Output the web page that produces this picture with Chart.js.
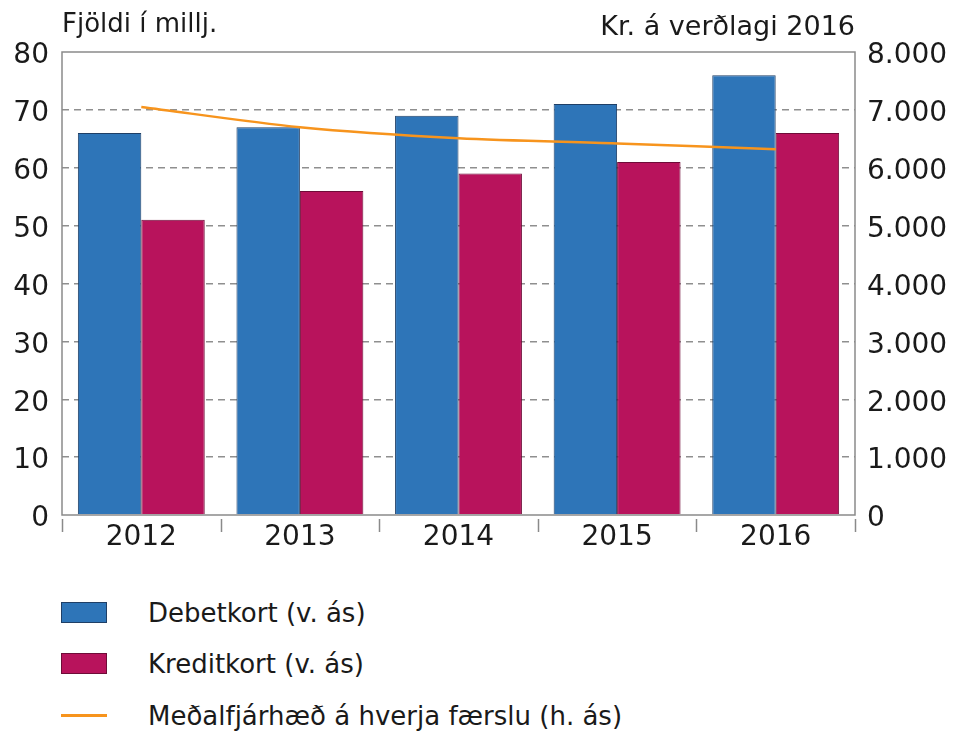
<!DOCTYPE html>
<html>
<head>
<meta charset="utf-8">
<script src="https://cdn.jsdelivr.net/npm/chart.js@4/dist/chart.umd.min.js"></script>
<style>
  html, body { margin: 0; padding: 0; background: #fff; }
  body { width: 953px; height: 736px; position: relative; overflow: hidden;
         font-family: 'DejaVu Sans', sans-serif; color: #1a1a1a; }
  #wrap { position: absolute; left: 0; top: 0; width: 953px; height: 570px; }
  .legend { position: absolute; left: 61px; top: 587px; }
  .legend .row { display: flex; align-items: center; height: 51px; font-size: 26px; }
  .legend .row:last-child { padding-top: 1px; }
  .legend .sw { width: 46px; height: 21px; margin-right: 41px; box-sizing: border-box; }
  .legend .ln { width: 46px; height: 2.5px; margin-right: 41px; }
</style>
</head>
<body>
<div id="wrap"><canvas id="c"></canvas></div>
<div class="legend" id="legend"></div>
<script>
// ---- data ----
const years = ['2012', '2013', '2014', '2015', '2016'];
const debetkort = [66, 67, 69, 71, 76];          // millj., vinstri ás
const kreditkort = [51, 56, 59, 61, 66];         // millj., vinstri ás
const medalfjarhaed = [7050, 6700, 6510, 6420, 6320]; // kr., hægri ás

const leftTitle = 'Fjöldi í millj.';
const rightTitle = 'Kr. á verðlagi 2016';
const seriesNames = ['Debetkort (v. ás)', 'Kreditkort (v. ás)', 'Meðalfjárhæð á hverja færslu (h. ás)'];

const C = {
  blue: '#2E75B8', blueEdge: '#1F3F66',
  magenta: '#B8135C', magentaEdge: '#6E0C38',
  orange: '#F7941D', frame: '#8a8a8a', grid: '#8f8f8f', ink: '#1a1a1a',
};
const FONT = "'DejaVu Sans', sans-serif";

// thousands with dot
const fmt = v => String(v).replace(/\B(?=(\d{3})+(?!\d))/g, '.');

// frame, axis titles, tick marks under the category axis
const framePlugin = {
  id: 'frame',
  afterDraw(chart) {
    const { ctx, chartArea: a, scales } = chart;
    ctx.save();
    ctx.strokeStyle = C.frame; ctx.lineWidth = 1.5;
    ctx.strokeRect(a.left, a.top, a.width, a.height);
    // category separators below axis
    const x = scales.x, n = years.length, step = x.width / n;
    ctx.beginPath();
    for (let i = 0; i <= n; i++) {
      const px = Math.round(x.left + i * step) + 0.5;
      ctx.moveTo(px, a.bottom + 4); ctx.lineTo(px, a.bottom + 17);
    }
    ctx.stroke();
    // axis titles
    ctx.fillStyle = C.ink; ctx.textBaseline = 'alphabetic';
    ctx.font = `26px ${FONT}`;
    ctx.textAlign = 'left'; ctx.fillText(leftTitle, a.left, 32);
    ctx.font = `27px ${FONT}`;
    ctx.textAlign = 'right'; ctx.fillText(rightTitle, a.right, 35);
    ctx.restore();
  },
};

const gridColor = ctx => (ctx.tick.value === 0 || ctx.tick.value === 80) ? 'rgba(0,0,0,0)' : C.grid;

new Chart(document.getElementById('c'), {
  data: {
    labels: years,
    datasets: [
      { type: 'line', label: seriesNames[2], data: medalfjarhaed, yAxisID: 'y1', order: 0,
        borderColor: C.orange, borderWidth: 2.5, tension: 0.3, pointRadius: 0, fill: false },
      { type: 'bar', label: seriesNames[0], data: debetkort, yAxisID: 'y', order: 1,
        backgroundColor: C.blue, borderColor: C.blueEdge, borderWidth: 1,
        categoryPercentage: 0.8, barPercentage: 1.0 },
      { type: 'bar', label: seriesNames[1], data: kreditkort, yAxisID: 'y', order: 1,
        backgroundColor: C.magenta, borderColor: C.magentaEdge, borderWidth: 1,
        categoryPercentage: 0.8, barPercentage: 1.0 },
    ],
  },
  options: {
    responsive: true, maintainAspectRatio: false, animation: false,
    layout: { padding: { top: 52, left: 0, right: 0, bottom: 0 } },
    plugins: { legend: { display: false }, tooltip: { enabled: false } },
    scales: {
      x: {
        grid: { display: false }, border: { display: false },
        ticks: { color: C.ink, font: { family: FONT, size: 28 }, padding: -2, maxRotation: 0 },
        afterFit: s => { s.height = 55; },
      },
      y: {
        position: 'left', min: 0, max: 80,
        border: { display: false, dash: [7, 5] },
        grid: { color: gridColor, lineWidth: 1.5, drawTicks: false },
        ticks: { stepSize: 10, color: C.ink, font: { family: FONT, size: 28 }, padding: 13, labelOffset: 4 },
        afterFit: s => { s.width = 62; },
      },
      y1: {
        position: 'right', min: 0, max: 8000,
        border: { display: false },
        grid: { display: false, drawOnChartArea: false, drawTicks: false },
        ticks: { stepSize: 1000, color: C.ink, font: { family: FONT, size: 28 }, padding: 12, labelOffset: 4,
                 callback: v => fmt(v) },
        afterFit: s => { s.width = 98; },
      },
    },
  },
  plugins: [framePlugin],
});

// HTML legend
const legendItems = [
  { name: seriesNames[0], kind: 'box', fill: C.blue, edge: C.blueEdge },
  { name: seriesNames[1], kind: 'box', fill: C.magenta, edge: C.magentaEdge },
  { name: seriesNames[2], kind: 'line', fill: C.orange },
];
document.getElementById('legend').innerHTML = legendItems.map(it =>
  `<div class="row">${it.kind === 'box'
      ? `<span class="sw" style="background:${it.fill};border:1px solid ${it.edge}"></span>`
      : `<span class="ln" style="background:${it.fill}"></span>`}<span>${it.name}</span></div>`
).join('');
</script>
</body>
</html>
